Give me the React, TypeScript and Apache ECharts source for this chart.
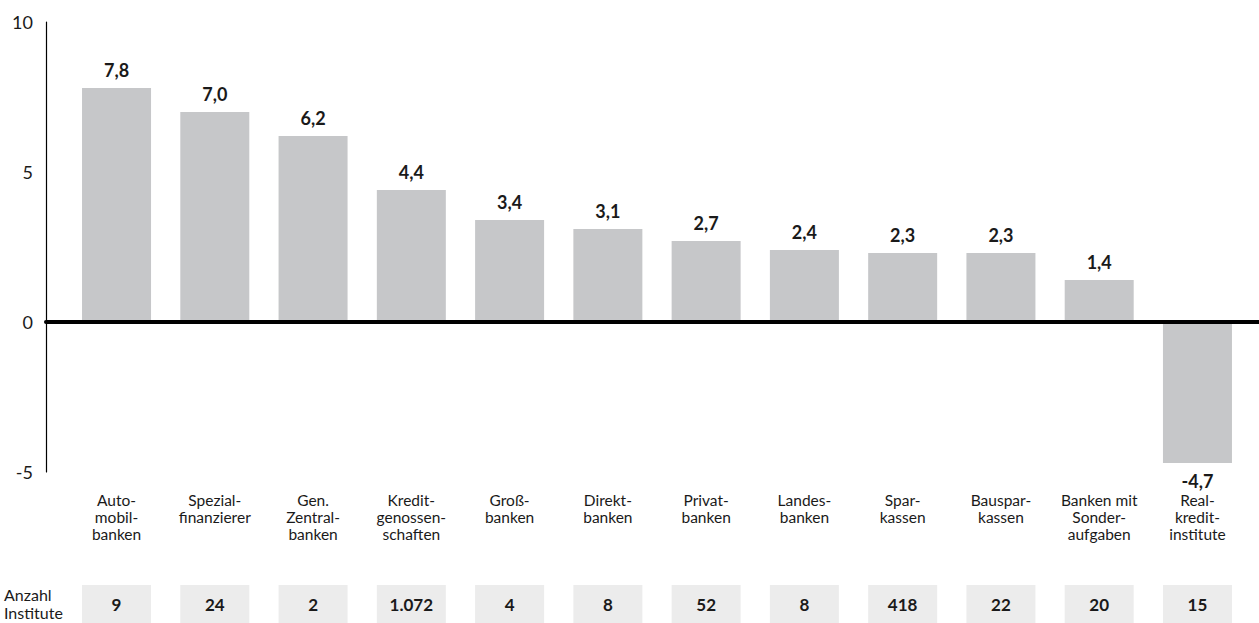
import React, { useEffect, useRef } from "react";
import * as echarts from "echarts";

const categories = [
  "Auto-\nmobil-\nbanken",
  "Spezial-\nfinanzierer",
  "Gen.\nZentral-\nbanken",
  "Kredit-\ngenossen-\nschaften",
  "Groß-\nbanken",
  "Direkt-\nbanken",
  "Privat-\nbanken",
  "Landes-\nbanken",
  "Spar-\nkassen",
  "Bauspar-\nkassen",
  "Banken mit\nSonder-\naufgaben",
  "Real-\nkredit-\ninstitute",
];
const values = [7.8, 7.0, 6.2, 4.4, 3.4, 3.1, 2.7, 2.4, 2.3, 2.3, 1.4, -4.7];
const counts = ["9", "24", "2", "1.072", "4", "8", "52", "8", "418", "22", "20", "15"];
const countTitle = "Anzahl\nInstitute";

const FONT = "Lato, 'Open Sans', sans-serif";
const TXT = "#1a1a1a";

export default function App() {
  const ref = useRef<HTMLDivElement>(null);
  useEffect(() => {
    document.body.style.margin = "0";
    const chart = echarts.init(ref.current!, null, { renderer: "svg" });
    const top = 22;
    const bottom = 151;
    chart.setOption({
      animation: false,
      textStyle: { fontFamily: FONT, color: TXT },
      grid: [
        { left: 67.4, right: 12.4, top, bottom },
        { left: 46, right: 0, top, bottom },
      ],
      xAxis: [
        {
          type: "category",
          gridIndex: 0,
          data: categories,
          axisLine: { show: false },
          axisTick: { show: false },
          axisLabel: {
            interval: 0,
            margin: 19,
            fontSize: 15.5,
            lineHeight: 17.2,
            color: TXT,
            fontFamily: FONT,
          },
        },
        {
          type: "category",
          gridIndex: 0,
          position: "bottom",
          data: counts,
          axisLine: { show: false },
          axisTick: { show: false },
          axisLabel: {
            interval: 0,
            margin: 113,
            formatter: (v: string) => "{b|" + v + "}",
            rich: {
              b: {
                backgroundColor: "#ececec",
                width: 69,
                height: 38,
                lineHeight: 38,
                align: "center",
                fontWeight: "bold",
                fontSize: 17,
                color: TXT,
                fontFamily: FONT,
              },
            },
          },
        },
        {
          type: "value",
          gridIndex: 1,
          min: 0,
          max: 1,
          z: 10,
          axisLine: { show: true, onZero: true, lineStyle: { color: "#000", width: 4 } },
          axisTick: { show: false },
          axisLabel: { show: false },
          splitLine: { show: false },
        },
      ],
      yAxis: [
        {
          type: "value",
          gridIndex: 0,
          min: -5,
          max: 10,
          interval: 5,
          show: false,
          splitLine: { show: false },
        },
        {
          type: "value",
          gridIndex: 1,
          min: -5,
          max: 10,
          interval: 5,
          axisLine: { show: true, lineStyle: { color: "#000", width: 1.2 } },
          axisTick: { show: false },
          splitLine: { show: false },
          axisLabel: { fontSize: 18, color: TXT, margin: 13, fontFamily: FONT },
        },
      ],
      graphic: [
        {
          type: "text",
          left: 4,
          top: 585,
          style: {
            text: countTitle,
            fontSize: 16,
            lineHeight: 18.5,
            fill: TXT,
            fontFamily: FONT,
          },
        },
      ],
      series: [
        {
          type: "bar",
          xAxisIndex: 0,
          yAxisIndex: 0,
          barWidth: 69,
          data: values.map((v) => ({
            value: v,
            label: { position: v < 0 ? "bottom" : "top" },
          })),
          itemStyle: { color: "#c6c7c9" },
          label: {
            show: true,
            distance: 9,
            fontSize: 18,
            fontWeight: "bold",
            color: TXT,
            fontFamily: FONT,
            formatter: (p: any) => p.value.toFixed(1).replace(".", ","),
          },
        },
      ],
    });
    return () => chart.dispose();
  }, []);
  return <div ref={ref} style={{ width: 1259, height: 623 }} />;
}
